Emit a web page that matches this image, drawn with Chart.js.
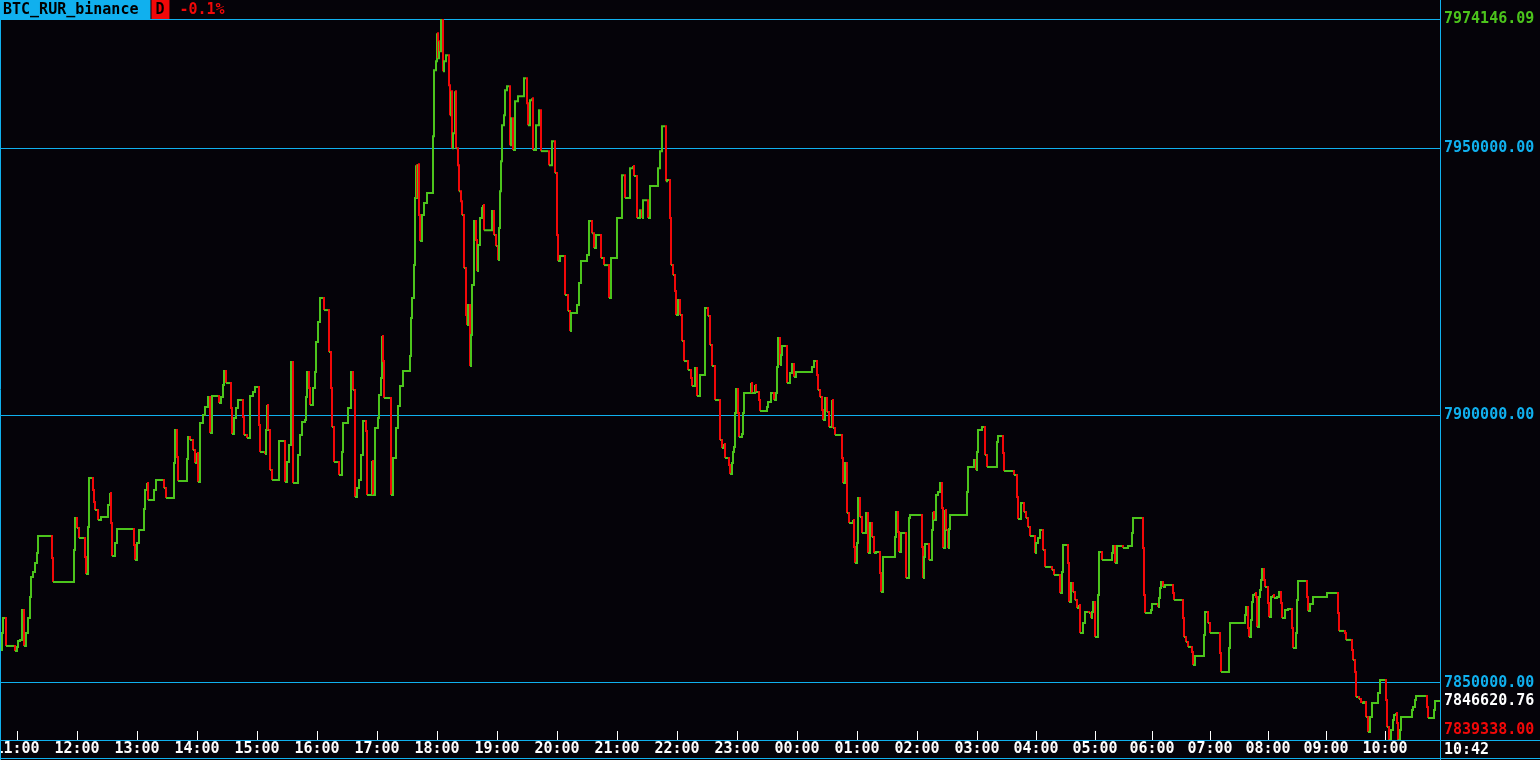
<!DOCTYPE html>
<html>
<head>
<meta charset="utf-8">
<title>BTC_RUR_binance</title>
<script src="https://cdn.jsdelivr.net/npm/chart.js@4.4.1/dist/chart.umd.min.js"></script>
<style>
	html, body { margin: 0; padding: 0; background: #050309; overflow: hidden; }
	#wrap { width: 1540px; height: 760px; }
</style>
</head>
<body>
<div id="wrap"><canvas id="price-chart" width="1540" height="760"></canvas></div>
<script>
var symbol = "BTC_RUR_binance";
var period = "D";
var change = "-0.1%";
var nowLabel = "10:42";

// sample index along the time axis -> price at that sample (only where it changed)
var samples = [
	0, 2, 3, 6, 15, 17, 18, 20, 22, 24, 26, 28, 30, 31, 33, 35, 37, 38, 52, 53, 74, 75, 77, 79, 85, 86, 88, 89,
	93, 94, 95, 98, 101, 108, 110, 111, 112, 115, 117, 134, 135, 137, 139, 144, 145, 147, 148, 154, 156, 164, 166,
	174, 175, 177, 178, 187, 188, 190, 193, 195, 197, 198, 200, 203, 205, 208, 210, 212, 219, 221, 223, 224, 226,
	231, 232, 234, 236, 238, 243, 244, 247, 250, 253, 255, 259, 260, 265, 266, 267, 268, 270, 272, 279, 285, 287,
	289, 291, 293, 298, 300, 302, 305, 306, 307, 309, 310, 313, 315, 316, 318, 320, 324, 329, 331, 332, 334, 339,
	342, 343, 348, 351, 353, 355, 357, 359,
	361, 363, 366, 367, 372, 373, 375, 378, 379, 381, 382, 383, 384, 391, 393, 396, 398, 400, 403, 410, 411, 412,
	414, 415, 416, 417, 418, 419, 420, 422, 424, 427, 433, 434, 436, 437, 438, 439, 440, 441, 443, 444, 446, 449,
	450, 451, 452, 453, 455, 456, 458, 459, 461, 462, 464, 466, 467, 468, 470, 471, 472, 474, 476, 477, 478, 480,
	482, 483, 484, 492, 494, 496, 498, 499, 500, 501, 502, 504, 505, 507, 510, 511, 513, 515, 518, 524, 527, 528,
	530, 532, 533, 536, 539, 541, 549, 552, 555, 557, 558, 560, 565, 568, 570, 571, 577, 579, 581, 587, 589, 592,
	594, 596, 601, 604, 609, 611, 617, 622, 625, 630, 633, 634, 637, 640, 642, 643, 648, 650, 658, 660, 662, 666,
	667, 670, 671, 673, 675, 676, 678, 680, 682, 684, 688, 691, 692, 695, 697, 700, 705, 708, 710, 712, 715,
	720, 722, 724, 725, 729, 730, 732, 733, 734, 735, 736, 738, 739, 742, 743, 744, 751, 752, 755, 756, 759, 760,
	767, 768, 771, 774, 776, 777, 778, 780, 781, 782, 787, 790, 792, 794, 796, 812, 814, 817, 818, 820, 822, 823,
	825, 827, 829, 832, 833, 835, 842, 843, 845, 847, 849, 853, 854, 855, 857, 858, 860, 862, 866, 868, 870, 872,
	874, 876, 880, 881, 883, 895, 896, 898, 899, 901, 906, 909, 910, 922, 923, 924, 925, 929, 932, 933, 934, 936,
	938, 940, 942, 943, 945, 946, 948, 949, 950, 967, 968, 974, 976, 977, 978, 982, 985, 987, 997, 998, 1003, 1004,
	1014, 1017, 1018, 1021, 1024, 1026, 1028, 1030, 1035, 1036, 1038, 1040, 1043, 1045, 1052, 1054, 1060, 1062,
	1063, 1068, 1069, 1071, 1073, 1075, 1077, 1079,
	1080, 1083, 1085, 1089, 1091, 1092, 1093, 1095, 1098, 1099, 1102, 1112, 1113, 1115, 1117, 1123, 1128, 1132,
	1133, 1143, 1144, 1145, 1151, 1152, 1158, 1159, 1160, 1161, 1163, 1165, 1173, 1174, 1183, 1184, 1186, 1188,
	1192, 1193, 1195, 1204, 1205, 1208, 1210, 1220, 1221, 1229, 1230, 1245, 1246, 1248, 1249, 1251, 1252, 1253,
	1255, 1256, 1257, 1259, 1260, 1261, 1262, 1264, 1265, 1268, 1269, 1271, 1273, 1274, 1277, 1279, 1281, 1282,
	1285, 1288, 1292, 1293, 1296, 1297, 1298, 1307, 1308, 1310, 1313, 1327, 1338, 1339, 1345, 1346, 1352, 1353,
	1355, 1356, 1359, 1361, 1362, 1364, 1366, 1368, 1370, 1372, 1378, 1380, 1386, 1387, 1389, 1391, 1393, 1394,
	1396, 1397, 1398, 1400, 1401, 1412, 1413, 1415, 1416, 1427, 1428, 1434, 1435
];

var prices = [
	7856180, 7859350, 7862160, 7856920, 7855990, 7856740, 7857860, 7858050, 7863650, 7856920, 7859350, 7862160,
	7866080, 7869820, 7870750, 7872440, 7874310, 7877480, 7873370, 7868890, 7874870, 7880850, 7878980, 7877110,
	7873560, 7870380, 7879170, 7888320,
	7886080, 7883840, 7882340, 7880470, 7881030, 7883280, 7885520, 7879910, 7873750, 7876170, 7878790, 7875800,
	7873000, 7876170, 7878600, 7882530, 7886080, 7887390, 7884210, 7886080, 7887950, 7886450, 7884590,
	7891130, 7897290, 7892250, 7887760, 7891870, 7895990, 7895430, 7893560, 7891130, 7893000, 7887580, 7898600,
	7900100, 7901590, 7903460, 7896730, 7903650, 7902340, 7903460, 7905700, 7908320, 7906080,
	7901410, 7896550, 7899540, 7901410, 7902900, 7899720, 7896360, 7895800, 7903650, 7904400, 7905330, 7898230,
	7893180, 7892810, 7897290, 7901970, 7897290, 7889820, 7887950, 7895240, 7887580, 7891310,
	7894490, 7910000, 7887390, 7892620, 7896360, 7898790, 7899160, 7903460, 7908130, 7905140, 7901970, 7905140,
	7908130, 7913740, 7917480, 7921970, 7919720, 7911870, 7905140, 7897860, 7891310, 7888880,
	7893180, 7898600, 7901410, 7908130, 7904770, 7884770, 7886450, 7887950,
	7892620, 7898980, 7897110, 7885150, 7891500, 7885150, 7897670, 7899540, 7903840, 7907010, 7914860, 7910190,
	7903280, 7885150, 7892060, 7897670, 7901780, 7905520, 7908320, 7911130, 7918230, 7921970,
	7928130, 7940660, 7946820, 7940660, 7947010, 7937480, 7932620, 7937480, 7939720, 7941590, 7952240, 7964580,
	7966260, 7971490, 7966820, 7970000, 7968130, 7974146.09, 7964390, 7966260, 7967380, 7961770,
	7956170, 7960650, 7950000, 7952800, 7960650, 7950000, 7946820, 7941960, 7940090, 7937480, 7927570, 7918790,
	7916920, 7920660, 7909260, 7915050, 7924390, 7936360, 7932810, 7927010, 7931870, 7936920,
	7938790, 7939350, 7934670, 7938230, 7933740, 7931680, 7929070, 7935050, 7941960, 7947570, 7954300, 7956170,
	7960840, 7961590, 7950560, 7955610, 7949630, 7958780, 7959720, 7963080, 7958410, 7954300,
	7958970, 7959350, 7949630, 7954300, 7957100, 7949440, 7946820, 7951310, 7945330, 7933740, 7928880, 7929820,
	7922530, 7919540, 7915800, 7919160, 7920660, 7924770, 7928880, 7930000, 7936360, 7934110,
	7931310, 7933740, 7929440, 7928130, 7921970, 7929440, 7936920, 7944950, 7940660, 7946260, 7946640, 7944770,
	7936920, 7938410, 7936920, 7940280, 7936920, 7942900, 7946260, 7949440, 7954110, 7943830,
	7944020, 7936920, 7928130, 7926260, 7923270, 7918790, 7921590, 7918790, 7913930, 7910190, 7908510, 7907010,
	7905520, 7908880, 7903650, 7907570, 7920100, 7918600, 7913180, 7909260, 7902900,
	7895430, 7893930, 7894680, 7892060, 7890750, 7889070, 7891130, 7893180, 7894120, 7900470, 7904960, 7900470,
	7895990, 7896550, 7900470, 7904210, 7906080, 7904210, 7905700, 7904400, 7902900, 7900850,
	7901590, 7902530, 7904210, 7902900, 7904210, 7909070, 7914490, 7909440, 7911310, 7912990, 7906080, 7907950,
	7909630, 7907200, 7908130, 7909070, 7910190, 7907570, 7904770, 7903460, 7901030, 7899160,
	7903280, 7900660, 7897860, 7902900, 7897670, 7896360, 7892060, 7887390, 7891130, 7881780, 7879910, 7880470,
	7875430, 7872440, 7876170, 7884590, 7881030, 7878040, 7881780, 7874310, 7879910, 7877300,
	7874310, 7874490, 7870570, 7867020, 7873560, 7877300, 7881970, 7878230, 7874490, 7878040, 7869630, 7880850,
	7881410, 7875430, 7869630, 7873560, 7875990, 7873000, 7878600, 7881970, 7880470, 7885150,
	7885710, 7887390, 7882720, 7875240, 7882340, 7878600, 7875240, 7878790, 7881410, 7885710, 7890380, 7891690,
	7889820, 7893180, 7897290, 7897860, 7892620, 7890380, 7895050, 7896170, 7893000, 7889630,
	7888880, 7884770, 7880660, 7883650, 7881970, 7880850, 7879170, 7877480, 7874310, 7876170, 7877110, 7878600,
	7874870, 7871690, 7871130, 7870190, 7866830, 7870750,
	7875800, 7872440, 7865150, 7868700, 7867020, 7865520, 7864030, 7864590,
	7859350, 7861220, 7863280, 7863090, 7862160, 7863280, 7865150, 7858610, 7866460, 7874490, 7873000, 7874310,
	7875610, 7872440, 7875610, 7875240, 7875610, 7878040,
	7880850, 7875240, 7866460, 7863090, 7863650, 7864770, 7864210, 7865900, 7867760, 7868890, 7867950, 7868320,
	7866830, 7865520, 7862160, 7858610, 7857670, 7856740,
	7855800, 7853370, 7855060, 7858980, 7863280, 7861220, 7859350, 7855620, 7852060, 7856550, 7861220, 7862720,
	7864210, 7860290, 7858610, 7861780, 7865150, 7866460,
	7866830, 7866080, 7860480, 7866080, 7867390, 7869260, 7871320, 7869260, 7867950, 7864960, 7862340, 7866080,
	7866460, 7865900, 7866080, 7867020, 7864960, 7862160,
	7863650, 7863840, 7860290, 7856550, 7859350, 7865520, 7869070, 7866080, 7863470, 7864770, 7866080, 7866830,
	7863090, 7859730, 7859350, 7858050, 7856180, 7854310,
	7852060, 7847390, 7847020, 7846460, 7846270, 7846460, 7843650, 7840850, 7843650, 7846270, 7848140, 7850570,
	7846830, 7841790, 7839338, 7841220, 7843090, 7844030,
	7844400, 7842530, 7839338, 7841220, 7843650, 7844960, 7845520, 7846830, 7847580, 7845520, 7843470, 7844960,
	7846620.76
];

var hourTicks = [17, 77, 137, 197, 257, 317, 377, 437, 497, 557, 617, 677, 737, 797, 857, 917, 977,
	1036, 1095, 1152, 1210, 1268, 1326, 1385];
var hourLabels = ["11:00", "12:00", "13:00", "14:00", "15:00", "16:00", "17:00", "18:00", "19:00", "20:00",
	"21:00", "22:00", "23:00", "00:00", "01:00", "02:00", "03:00", "04:00", "05:00", "06:00", "07:00", "08:00",
	"09:00", "10:00"];

var levels = [7850000, 7900000, 7950000];
var lastPrice = 7846620.76;
var highPrice = 7974146.09;
var lowPrice = 7839338.00;
var lastSample = 1440;

var BG = "#050309";
var CYAN = "#10b0ee";
var GREEN = "#4cc41c";
var RED = "#f20808";
var WHITE = "#ffffff";
var MONO = "'DejaVu Sans Mono', 'Liberation Mono', monospace";

// step points: keep the flat part as its own (unchanged) segment so it stays green
var points = [];
for (var i = 0; i < samples.length; i++) {
	if (i > 0 && samples[i] - 1 > samples[i - 1]) {
		points.push({ x: samples[i] - 1, y: prices[i - 1] });
	}
	points.push({ x: samples[i], y: prices[i] });
}
points.push({ x: lastSample, y: lastPrice });

var terminal = {
	id: 'terminal',
	beforeDraw: function (chart) {
		var ctx = chart.ctx;
		ctx.save();
		ctx.fillStyle = BG;
		ctx.fillRect(0, 0, chart.width, chart.height);
		ctx.restore();
	},
	afterDraw: function (chart) {
		var ctx = chart.ctx;
		var area = chart.chartArea;
		var x = chart.scales.x;
		var y = chart.scales.y;
		ctx.save();

		// small hour marks inside the plot
		ctx.strokeStyle = WHITE;
		ctx.lineWidth = 1;
		x.ticks.forEach(function (t) {
			var px = Math.round(x.getPixelForValue(t.value)) + 0.5;
			ctx.beginPath();
			ctx.moveTo(px, area.bottom - 9);
			ctx.lineTo(px, area.bottom);
			ctx.stroke();
		});

		// frame
		ctx.strokeStyle = CYAN;
		ctx.beginPath();
		ctx.moveTo(0.5, area.top);
		ctx.lineTo(0.5, chart.height);
		ctx.moveTo(Math.round(area.right) + 0.5, 0);
		ctx.lineTo(Math.round(area.right) + 0.5, chart.height);
		ctx.moveTo(0, Math.round(area.bottom) + 0.5);
		ctx.lineTo(chart.width, Math.round(area.bottom) + 0.5);
		ctx.moveTo(0, chart.height - 1.5);
		ctx.lineTo(chart.width, chart.height - 1.5);
		ctx.stroke();

		// header
		ctx.font = "bold 15px " + MONO;
		ctx.textBaseline = "middle";
		ctx.textAlign = "left";
		var w = ctx.measureText(symbol).width;
		ctx.fillStyle = CYAN;
		ctx.fillRect(0, 0, w + 15, 19);
		ctx.fillStyle = "#000000";
		ctx.fillText(symbol, 3, 10);
		ctx.fillStyle = RED;
		ctx.fillRect(w + 16, 0, 18, 19);
		ctx.fillStyle = "#000000";
		ctx.fillText(period, w + 20, 10);
		ctx.fillStyle = RED;
		ctx.fillText(change, w + 44, 10);

		// price labels on the right
		var lx = area.right + 4;
		var tags = [
			{ v: highPrice, c: GREEN },
			{ v: levels[2], c: CYAN },
			{ v: levels[1], c: CYAN },
			{ v: levels[0], c: CYAN },
			{ v: lastPrice, c: WHITE },
			{ v: lowPrice, c: RED }
		];
		tags.forEach(function (tag) {
			var py = y.getPixelForValue(tag.v);
			py = Math.min(py, area.bottom - 10);
			ctx.fillStyle = tag.c;
			ctx.fillText(tag.v.toFixed(2), lx, py);
		});

		// current time under the price column
		ctx.fillStyle = WHITE;
		ctx.fillText(nowLabel, lx, area.bottom + 10);
		ctx.restore();
	}
};

new Chart(document.getElementById("price-chart"), {
	type: 'line',
	data: {
		datasets: [{
			label: symbol,
			data: points,
			stepped: true,
			borderWidth: 2,
			borderColor: GREEN,
			pointRadius: 0,
			fill: false,
			segment: {
				borderColor: function (ctx) {
					return ctx.p1.parsed.y < ctx.p0.parsed.y ? RED : GREEN;
				}
			}
		}]
	},
	options: {
		responsive: false,
		devicePixelRatio: 1,
		animation: false,
		events: [],
		layout: {
			autoPadding: false,
			padding: { top: 19, left: 0, right: 0, bottom: 0 }
		},
		plugins: {
			legend: { display: false },
			tooltip: { enabled: false },
			title: { display: false }
		},
		scales: {
			x: {
				type: 'linear',
				min: 0,
				max: lastSample,
				afterBuildTicks: function (axis) {
					axis.ticks = hourTicks.map(function (v) { return { value: v }; });
				},
				afterFit: function (axis) {
					axis.height = 20;
					axis.paddingLeft = 0;
					axis.paddingRight = 0;
				},
				ticks: {
					color: WHITE,
					font: { family: MONO, size: 15, weight: 'bold' },
					padding: 0,
					maxRotation: 0,
					autoSkip: false,
					callback: function (value, index) { return hourLabels[index]; }
				},
				grid: { drawOnChartArea: false, drawTicks: false },
				border: { color: CYAN, width: 1 }
			},
			y: {
				position: 'right',
				min: lowPrice,
				max: highPrice,
				afterBuildTicks: function (axis) {
					axis.ticks = levels.concat([highPrice]).map(function (v) { return { value: v }; });
				},
				afterFit: function (axis) {
					axis.width = 100;
					axis.paddingTop = 0;
					axis.paddingBottom = 0;
				},
				ticks: { display: false },
				grid: { color: CYAN, lineWidth: 1, drawTicks: false },
				border: { color: CYAN, width: 1 }
			}
		}
	},
	plugins: [terminal]
});
</script>
</body>
</html>
